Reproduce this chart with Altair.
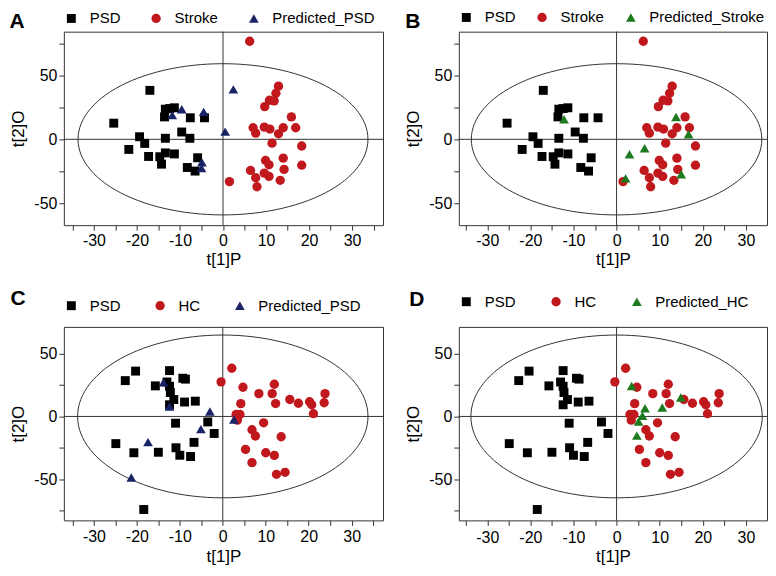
import altair as alt
import pandas as pd

FONT = "Liberation Sans"

# ---------------- Panel A / B (PSD vs Stroke model) ----------------
psd_s_x = [-25.4, -17.0, -21.9, -19.4, -18.2, -17.3, -14.7, -14.3, -13.4, -13.6, -13.4, -13.4,
           -11.3, -11.3, -9.6, -7.7, -7.6, -8.3, -6.5, -5.9, -4.3, -12.4]
psd_s_y = [12.6, 38.2, -7.9, 2.0, -3.2, -13.4, -13.6, -19.4, 23.5, 17.5, 0.8, -10.6,
           24.6, -11.4, 5.7, 0.8, 16.8, -22.0, -24.8, -14.4, 16.8, 24.0]
stroke_x = [6.2, 12.9, 12.3, 10.8, 11.9, 9.7, 15.9, 7.0, 7.6, 9.6, 10.9, 14.0, 12.9, 16.9,
            11.4, 18.3, 9.9, 10.7, 14.0, 18.3, 14.2, 6.4, 7.6, 9.6, 10.7, 13.3, 7.9, 1.5]
stroke_y = [76.5, 41.5, 36.0, 30.5, 30.0, 25.5, 17.5, 9.0, 4.8, 9.5, 8.0, 9.0, 4.3, 9.0,
            -3.0, -5.2, -16.5, -19.9, -14.7, -20.2, -23.5, -24.3, -30.0, -26.4, -28.9, -32.0, -37.0, -33.0]
pred_psd_a_x = [-11.8, -9.6, -4.5, -4.9, -5.0, 2.4, 0.5]
pred_psd_a_y = [18.9, 23.5, 21.4, -18.0, -22.5, 39.0, 6.0]
pred_stroke_x = [-12.2, 3.0, 6.5, 13.8, 16.7, 15.0, 2.1]
pred_stroke_y = [15.6, -11.7, -7.0, 17.4, 3.9, -27.3, -30.5]

# ---------------- Panel C / D (PSD vs HC model) ----------------
psd_h_x = [-22.7, -20.3, -24.9, -20.7, -15.7, -15.0, -12.4, -13.0, -12.4, -12.2, -12.4, -11.4,
           -11.0, -10.9, -10.0, -9.3, -8.7, -8.9, -6.4, -6.7, -7.5, -3.5, -2.0, -18.4]
psd_h_y = [28.6, 36.2, -21.7, -29.0, 24.4, -28.6, 36.6, 27.5, 24.1, 19.1, 9.3, 13.5,
           -5.4, -25.0, -31.0, 30.5, 29.8, 11.5, 12.2, -20.7, -32.0, -4.4, -13.6, -74.3]
hc_x = [-0.4, 2.1, 4.7, 4.2, 3.1, 4.0, 3.4, 8.4, 12.0, 11.5, 12.3, 15.6, 17.6, 20.2, 20.7,
        21.1, 23.8, 23.6, 9.5, 6.8, 7.6, 13.6, 5.3, 6.8, 10.0, 12.0, 12.5, 14.5]
hc_y = [27.6, 38.5, 23.3, 10.2, 1.6, 1.6, -3.0, 18.2, 25.7, 18.2, 10.3, 13.5, 10.5, 11.7, 9.3,
        2.2, 18.2, 10.9, -5.1, -10.6, -15.6, -16.2, -26.3, -36.9, -29.0, -31.1, -46.2, -44.6]
pred_psd_c_x = [-13.8, -12.4, -17.4, -21.3, -5.1, -3.0, 2.6]
pred_psd_c_y = [27.2, 8.0, -20.5, -48.8, -10.1, 4.0, -2.5]
pred_hc_x = [3.5, 6.6, 6.0, 5.1, 4.7, 10.6, 14.9]
pred_hc_y = [24.3, 6.6, 0.5, -4.0, -15.3, 7.1, 15.1]

# ellipse semi-axes (Hotelling T2) per model
ell_ab = (33.7, 59.0)
ell_cd = (33.8, 65.0)

X_TICKS = list(range(-35, 40, 5))
Y_TICKS_AB = [-50, -25, 0, 25, 50, 75]
Y_TICKS_CD = [-75, -50, -25, 0, 25, 50]

RED = "#c0181c"
NAVY = "#1a2366"
GREEN = "#1e7a1e"
FRAME = "#333333"


def panel(letter, names, xs, ys, colors, xdom, ydom, yticks, ell, width, height,
          legend_y, col_pad, letter_xy, xlab_pad=2, xtitle_pad=3):
    rows = []
    for n, xx, yy in zip(names, xs, ys):
        for a, b in zip(xx, yy):
            rows.append({"x": a, "y": b, "group": n})
    df = pd.DataFrame(rows)

    xs_scale = alt.Scale(domain=xdom, nice=False, zero=False)
    ys_scale = alt.Scale(domain=ydom, nice=False, zero=False)

    xaxis = alt.Axis(
        values=X_TICKS, tickCount=100, labelOverlap=False, labelFlush=False,
        labelExpr="datum.value % 10 === 0 ? '' + datum.value : ''",
        title="t[1]P", grid=False, tickSize=5, labelPadding=xlab_pad, titlePadding=xtitle_pad,
    )
    yaxis = alt.Axis(
        values=yticks, tickCount=100, labelOverlap=False, labelFlush=False,
        labelExpr="datum.value % 50 === 0 ? '' + datum.value : ''",
        title="t[2]O", grid=False, tickSize=5, labelPadding=2, titlePadding=6,
    )

    a, b = ell
    ellipse = alt.Chart(alt.sequence(0, 361, 3, as_="t")).transform_calculate(
        ex=f"{a} * cos(datum.t * PI / 180)",
        ey=f"{b} * sin(datum.t * PI / 180)",
    ).mark_line(color=FRAME, strokeWidth=1, clip=True).encode(
        x=alt.X("ex:Q", scale=xs_scale, axis=xaxis),
        y=alt.Y("ey:Q", scale=ys_scale, axis=yaxis),
        order="t:Q",
    )

    zero = pd.DataFrame({"v": [0]})
    vrule = alt.Chart(zero).mark_rule(color=FRAME, strokeWidth=1).encode(x="v:Q")
    hrule = alt.Chart(zero).mark_rule(color=FRAME, strokeWidth=1).encode(y="v:Q")

    pts = alt.Chart(df).mark_point(filled=True, opacity=1, strokeWidth=0).encode(
        x="x:Q",
        y="y:Q",
        color=alt.Color("group:N", scale=alt.Scale(domain=names, range=colors),
                        legend=alt.Legend(
                            title=None, orient="none", direction="horizontal",
                            legendX=0, legendY=legend_y, columnPadding=col_pad,
                            labelOffset=11, labelFontSize=15, labelFont=FONT,
                            labelColor="#000", symbolSize=85, symbolStrokeWidth=0,
                            labelLimit=200)),
        shape=alt.Shape("group:N", scale=alt.Scale(domain=names,
                                                   range=["square", "circle", "triangle-up"])),
        size=alt.Size("group:N", scale=alt.Scale(domain=names, range=[80, 95, 120]),
                      legend=None),
        order=alt.Order("ord:Q"),
    ).transform_calculate(
        ord=f"indexof({names!r}, datum.group)".replace('"', "'")
    )

    lab = alt.Chart(pd.DataFrame({"l": [letter]})).mark_text(
        fontSize=21, fontWeight="bold", font=FONT, color="#000",
        align="center", baseline="middle",
    ).encode(text="l:N", x=alt.value(letter_xy[0]), y=alt.value(letter_xy[1]))

    return alt.layer(ellipse, vrule, hrule, pts, lab).properties(
        width=width, height=height)


A = panel("A", ["PSD", "Stroke", "Predicted_PSD"],
          [psd_s_x, stroke_x, pred_psd_a_x], [psd_s_y, stroke_y, pred_psd_a_y],
          ["#000000", RED, NAVY], [-37.0, 37.2], [-67, 84], Y_TICKS_AB, ell_ab, 320, 194,
          -21, 28, (-47, -10))
B = panel("B", ["PSD", "Stroke", "Predicted_Stroke"],
          [psd_s_x, stroke_x, pred_stroke_x], [psd_s_y, stroke_y, pred_stroke_y],
          ["#000000", RED, GREEN], [-36.6, 34.9], [-67, 84], Y_TICKS_AB, ell_ab, 309, 194,
          -22, 19, (-46, -10))
C = panel("C", ["PSD", "HC", "Predicted_PSD"],
          [psd_h_x, hc_x, pred_psd_c_x], [psd_h_y, hc_y, pred_psd_c_y],
          ["#000000", RED, NAVY], [-37.0, 37.3], [-83, 71.5], Y_TICKS_CD, ell_cd, 320, 194,
          -29, 32, (-46, -28), xlab_pad=3, xtitle_pad=4)
D = panel("D", ["PSD", "HC", "Predicted_HC"],
          [psd_h_x, hc_x, pred_hc_x], [psd_h_y, hc_y, pred_hc_y],
          ["#000000", RED, GREEN], [-36.6, 34.9], [-83, 71.5], Y_TICKS_CD, ell_cd, 309, 194,
          -33, 33, (-42, -27), xlab_pad=4, xtitle_pad=3)

res = dict(color="independent", shape="independent", size="independent",
           x="independent", y="independent")
top = alt.hconcat(A, B, spacing=20).resolve_scale(**res)
bottom = alt.hconcat(C, D, spacing=20).resolve_scale(**res)

chart = alt.vconcat(top, bottom, spacing=19).properties(
    padding={"left": 0, "top": 0, "right": 0, "bottom": 0}
).configure(font=FONT).configure_view(
    stroke=FRAME, strokeWidth=1
).configure_axis(
    labelFont=FONT, titleFont=FONT, labelFontSize=16, titleFontSize=17,
    titleFontWeight="normal", labelColor="#000", titleColor="#000",
    domain=False, tickColor=FRAME, tickWidth=1,
)

chart.save("out.html", embed_options={"renderer": "svg", "actions": False})
